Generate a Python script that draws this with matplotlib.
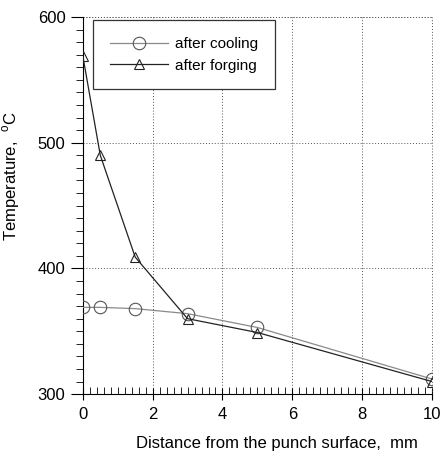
import numpy as np
import matplotlib
matplotlib.use('Agg')
import matplotlib.pyplot as plt
from matplotlib.ticker import MultipleLocator

plt.rcParams['font.family'] = 'Liberation Sans'
plt.rcParams['mathtext.fontset'] = 'custom'
plt.rcParams['mathtext.rm'] = 'Liberation Sans'

# Dados
distance = [0, 0.5, 1.5, 3, 5, 10]
temp_cooling = [369, 369, 368, 364, 353, 312]
temp_forging = [569, 490, 409, 360, 349, 310]

fig = plt.figure(figsize=(4.43, 4.62), dpi=100)
ax = fig.add_axes([0.187, 0.147, 0.788, 0.816])

cool_color = '#8a8a8a'
forge_color = '#222222'

ax.plot(distance, temp_cooling, color=cool_color, lw=0.9, marker='o', ms=9,
        mfc='none', mec='#555555', mew=0.8, zorder=3, label='after cooling')
ax.plot(distance, temp_forging, color=forge_color, lw=0.9, marker='^', ms=7,
        mfc='none', mec='#222222', mew=0.8, zorder=3, label='after forging')

ax.set_xlim(0, 10)
ax.set_ylim(300, 600)
ax.xaxis.set_major_locator(MultipleLocator(2))
ax.xaxis.set_minor_locator(MultipleLocator(0.2))
ax.yaxis.set_major_locator(MultipleLocator(100))
ax.yaxis.set_minor_locator(MultipleLocator(10))
ax.tick_params(axis='x', which='major', direction='inout', length=9, width=0.8, labelsize=12, pad=5)
ax.tick_params(axis='x', which='minor', direction='in', length=5, width=0.6)
ax.tick_params(axis='y', which='major', direction='out', length=9, width=0.8, labelsize=12)
ax.tick_params(axis='y', which='minor', direction='out', length=5, width=0.6)

# Apenas eixos esquerdo e inferior, grade pontilhada
ax.spines['top'].set_visible(False)
ax.spines['right'].set_visible(False)
ax.grid(True, which='major', linestyle=(0, (1, 2)), color='#555555', lw=0.7)
ax.axhline(600, linestyle=(0, (1, 2)), color='#555555', lw=0.7, clip_on=False)
ax.axvline(10, linestyle=(0, (1, 2)), color='#555555', lw=0.7, clip_on=False)

ax.set_xlabel('Distance from the punch surface,  mm', fontsize=12)
ax.xaxis.set_label_coords(0.556, -0.11)
ax.set_ylabel('Temperature,  $^{\\mathrm{o}}$C', fontsize=12)
ax.yaxis.set_label_coords(-0.175, 0.578)

leg = ax.legend(loc='upper left', bbox_to_anchor=(0.029, 0.992), fontsize=11,
                frameon=True, fancybox=False, handlelength=3.8, borderpad=1.1,
                labelspacing=0.5, handletextpad=0.5, borderaxespad=0)
leg.get_frame().set_edgecolor('#333333')
leg.get_frame().set_linewidth(0.9)
leg.get_frame().set_alpha(1)

fig.savefig('out.png', dpi=100)
